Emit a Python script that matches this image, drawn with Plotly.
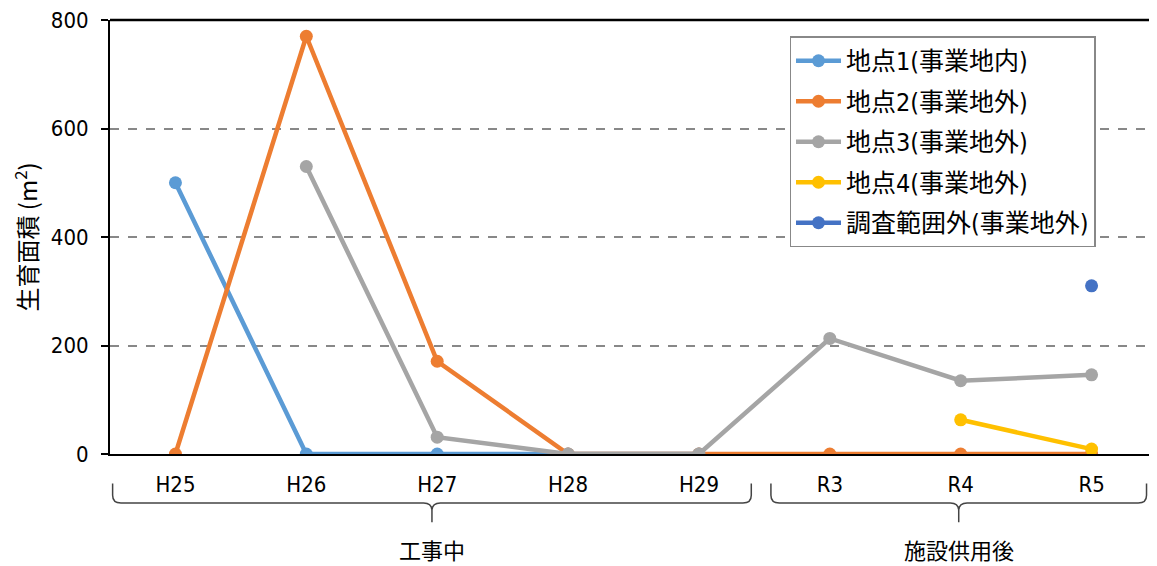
import plotly.graph_objects as go

categories = ["H25", "H26", "H27", "H28", "H29", "R3", "R4", "R5"]
site1 = [500, 0, 0, 0, 0, None, None, None]
site2 = [0, 770, 171, 0, 0, 0, 0, 0]
site3 = [None, 530, 31, 0, 0, 213, 135, 146]
site4 = [None, None, None, None, None, None, 63, 9]
outside = [None, None, None, None, None, None, None, 310]

series_names = ["地点1(事業地内)", "地点2(事業地外)", "地点3(事業地外)",
                "地点4(事業地外)", "調査範囲外(事業地外)"]
series_colors = ["#5B9BD5", "#ED7D31", "#A5A5A5", "#FFC000", "#4472C4"]
series_values = [site1, site2, site3, site4, outside]

period_labels = ["工事中", "施設供用後"]
period_spans = [(-0.48, 4.4), (4.55, 7.42)]

JP = "Noto Sans CJK JP"
NUM = "DejaVu Sans Condensed, Liberation Sans Narrow, Liberation Sans, Noto Sans CJK JP"

fig = go.Figure()
for i, (name, col, vals) in enumerate(zip(series_names, series_colors, series_values)):
    fig.add_trace(go.Scatter(
        x=categories, y=vals, name=name, mode="lines+markers",
        line=dict(color=col, width=4.5), marker=dict(color=col, size=13),
        legendgroup=f"g{i}", connectgaps=False,
    ))

n = len(categories)
def px(i):
    return (i + 0.5) / n

shapes = []
y_top, y_mid, y_tip = -0.068, -0.113, -0.157
dx = 0.008
dy = 0.018
for (a, b) in period_spans:
    x0, x1 = px(a), px(b)
    xc = (x0 + x1) / 2
    path = (f"M {x0},{y_top} L {x0},{y_mid + dy} Q {x0},{y_mid} {x0 + dx},{y_mid} "
            f"L {xc - dx},{y_mid} Q {xc},{y_mid} {xc},{y_mid - dy} L {xc},{y_tip} "
            f"M {xc},{y_mid - dy} Q {xc},{y_mid} {xc + dx},{y_mid} "
            f"L {x1 - dx},{y_mid} Q {x1},{y_mid} {x1},{y_mid + dy} L {x1},{y_top}")
    shapes.append(dict(type="path", xref="paper", yref="paper", path=path,
                       line=dict(color="#444444", width=1.5)))
# top border line
shapes.append(dict(type="line", xref="paper", yref="paper", x0=0, x1=1, y0=1, y1=1,
                   line=dict(color="black", width=2.5)))

annotations = []
for lab, (a, b) in zip(period_labels, period_spans):
    annotations.append(dict(text=lab, xref="paper", yref="paper",
                            x=(px(a) + px(b)) / 2, y=-0.219, showarrow=False,
                            font=dict(family=JP, size=22, color="black"),
                            xanchor="center", yanchor="middle"))

# page body has an 8px margin: shrink figure so the plot lands where the reference has it
fig.update_layout(
    width=1149, height=558,
    margin=dict(l=102, r=0, t=12, b=112),
    plot_bgcolor="white", paper_bgcolor="white",
    showlegend=True,
    legend=dict(x=0.649, y=0.962, xanchor="left", yanchor="top",
                bordercolor="#888888", borderwidth=1.5, bgcolor="white",
                font=dict(family=NUM, size=25, color="black"),
                tracegroupgap=5, itemwidth=45,
                entrywidth=318, entrywidthmode="pixels"),
    shapes=shapes, annotations=annotations,
    font=dict(family=NUM, color="black"),
)
fig.update_xaxes(
    type="category", categoryorder="array", categoryarray=categories,
    range=[-0.5, n - 0.5],
    showline=True, linecolor="black", linewidth=2,
    ticks="", showgrid=False, zeroline=False,
    tickfont=dict(family=NUM, size=22, color="black"),
    ticklabelstandoff=10,
)
fig.update_yaxes(
    range=[0, 800], tickvals=[0, 200, 400, 600, 800],
    showline=True, linecolor="black", linewidth=2,
    ticks="outside", ticklen=7, tickcolor="black", tickwidth=1.5,
    showgrid=True, gridcolor="#888888", griddash="dash", gridwidth=1.5,
    zeroline=False,
    tickfont=dict(family=NUM, size=22, color="black"),
    ticklabelstandoff=8, ticklabeloverflow="allow",
    title=dict(text="生育面積 (m<sup>2</sup>)", font=dict(family=JP, size=24, color="black"),
               standoff=8),
)

fig.write_html("out.html")
